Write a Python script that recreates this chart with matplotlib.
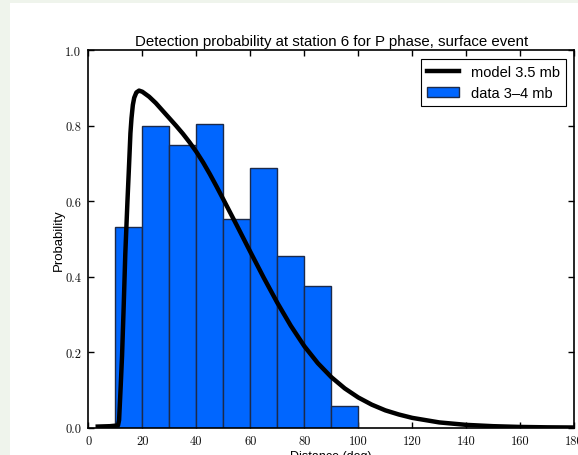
import matplotlib as mpl
mpl.use('Agg')
import matplotlib.pyplot as plt
from matplotlib.patches import Rectangle

# histogram of observed detections (3-4 mb), 10 deg bins
bin_edges = [10, 20, 30, 40, 50, 60, 70, 80, 90, 100]
data_prob = [0.532, 0.800, 0.750, 0.804, 0.552, 0.688, 0.454, 0.375, 0.057]

# model curve for 3.5 mb
model_dist = [3.5, 8, 11, 11.4, 11.6, 12.0, 12.5, 13.1, 13.7, 14.1, 14.5, 15.0,
              15.6, 16.0, 16.5, 17.0, 17.8, 18.8, 20, 22.5, 25, 27.5, 30, 32.5,
              35, 37.5, 40, 42.5, 45, 47.5, 50, 55, 60, 65, 70, 75, 80, 85, 90,
              95, 100, 105, 110, 115, 120, 130, 140, 150, 160, 170, 180]
model_prob = [0.003, 0.004, 0.006, 0.02, 0.05, 0.11, 0.19, 0.32, 0.46, 0.53,
              0.60, 0.68, 0.78, 0.82, 0.855, 0.874, 0.888, 0.893, 0.890, 0.877,
              0.860, 0.840, 0.820, 0.800, 0.779, 0.756, 0.731, 0.703, 0.672,
              0.639, 0.605, 0.536, 0.466, 0.397, 0.331, 0.270, 0.216, 0.171,
              0.134, 0.104, 0.080, 0.061, 0.046, 0.035, 0.026, 0.014, 0.0075,
              0.004, 0.002, 0.001, 0.0005]

title = "Detection probability at station 6 for P phase, surface event"
x_ticks = [0, 20, 40, 60, 80, 100, 120, 140, 160, 180]
y_ticks = [0.0, 0.2, 0.4, 0.6, 0.8, 1.0]

fig = plt.figure(figsize=(5.78, 4.56), dpi=100)
fig.patch.set_facecolor('#eff4ec')
fig.patches.append(Rectangle((10/578, 0), 1, 452/456, transform=fig.transFigure,
                             facecolor='white', edgecolor='none', zorder=-10))

ax = fig.add_axes([88.3/578, 27.3/456, 486/578, 377.5/456])

widths = [bin_edges[i+1] - bin_edges[i] for i in range(len(data_prob))]
ax.bar(bin_edges[:-1], data_prob, width=widths, align='edge', color='#0066ff',
       edgecolor='#1c2a4a', linewidth=1.0, label='data 3\u20134 mb', zorder=2)
ax.plot(model_dist, model_prob, color='black', linewidth=3.2,
        solid_joinstyle='round', label='model 3.5 mb', zorder=3)

ax.set_xlim(0, 180)
ax.set_ylim(0, 1.0)
ax.set_xticks(x_ticks)
ax.set_yticks(y_ticks)
ax.set_xticklabels([str(t) for t in x_ticks])
ax.set_yticklabels(['%.1f' % t for t in y_ticks])
for lab in ax.get_xticklabels() + ax.get_yticklabels():
    lab.set_fontfamily('cmr10')
    lab.set_fontsize(9)
    lab.set_color('#111111')
ax.tick_params(direction='in', length=4, width=1, top=True, right=True, pad=5)
for s in ax.spines.values():
    s.set_linewidth(1.2)

ax.set_title(title, fontfamily='Liberation Sans', fontsize=10.8, pad=4)
ax.set_xlabel('Distance (deg)', fontfamily='Liberation Sans', fontsize=9, labelpad=2)
ax.set_ylabel('Probability', fontfamily='Liberation Sans', fontsize=9.5, labelpad=0)

leg = ax.legend(loc='upper right', fancybox=False, framealpha=1,
                edgecolor='black', prop={'family': 'Liberation Sans', 'size': 10.5},
                handlelength=2.2, borderaxespad=0.6)
leg.get_frame().set_linewidth(0.8)

fig.savefig('out.png', dpi=100, facecolor=fig.get_facecolor())
